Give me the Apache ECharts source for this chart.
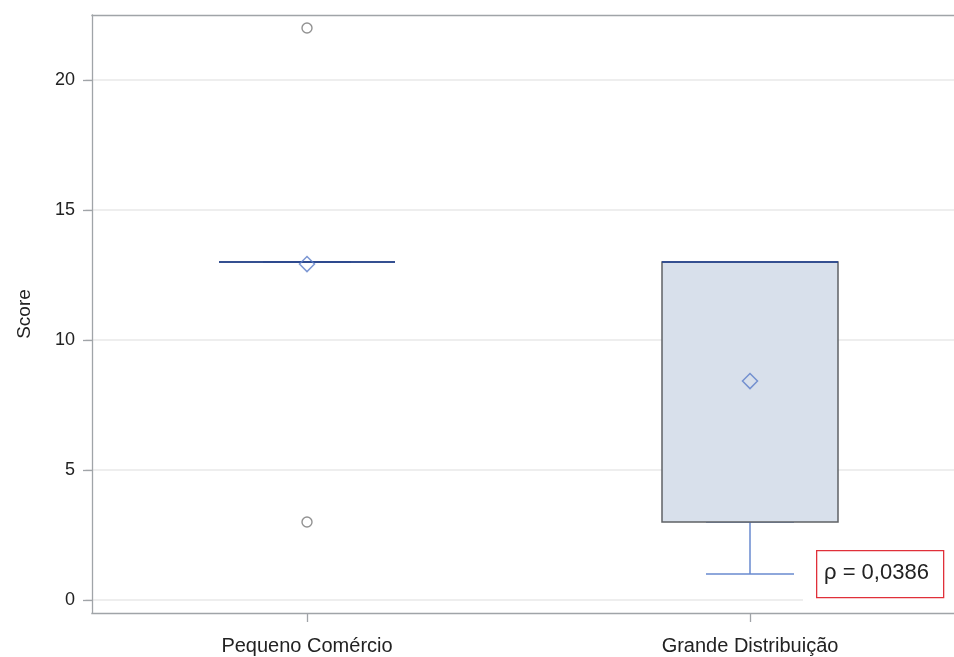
<!DOCTYPE html>
<html>
<head>
<meta charset="utf-8">
<script src="https://cdn.jsdelivr.net/npm/echarts@6/dist/echarts.min.js"></script>
<style>
  html, body { margin: 0; padding: 0; background: #fff; }
  #chart { width: 954px; height: 657px; }
</style>
</head>
<body>
<div id="chart"></div>
<script>
// dados
const categorias = ['Pequeno Comércio', 'Grande Distribuição'];
// [min, Q1, mediana, Q3, max]
const caixas = [[13, 13, 13, 13, 13], [3, 3, 13, 13, 13]];
const bigodes = [[13, 13, 13, 13, 13], [1, 3, 3, 3, 3]];
const medianas = [[13, 13, 13, 13, 13], [13, 13, 13, 13, 13]];
const medias = [12.92, 8.42];
const outliers = [[0, 22], [0, 3]];
const yTicks = [0, 5, 10, 15, 20];
const pTexto = 'ρ = 0,0386';

const fonte = "'Liberation Sans', Arial, sans-serif";
const corEixo = '#a0a4a8';
const chart = echarts.init(document.getElementById('chart'));

chart.setOption({
  animation: false,
  grid: { left: 85.5, top: 15, width: 886, height: 598, show: false, outerBoundsMode: 'none', containLabel: false },
  xAxis: [
    {
      type: 'category',
      data: categorias,
      axisLine: { onZero: false, lineStyle: { color: corEixo, width: 1.3 } },
      axisTick: { show: true, interval: 0, alignWithLabel: true, length: 9, lineStyle: { color: corEixo, width: 1.3 } },
      axisLabel: { color: '#222', fontSize: 20, fontFamily: fonte, margin: 23 },
      splitLine: { show: false }
    },
    { type: 'category', data: categorias, show: false },
    {
      // só a linha de cima da moldura
      type: 'category', data: categorias, position: 'top',
      axisLine: { show: true, onZero: false, lineStyle: { color: corEixo, width: 1.3 } },
      axisTick: { show: false }, axisLabel: { show: false }
    }
  ],
  yAxis: {
    type: 'value',
    min: -0.5,
    max: 22.5,
    offset: -6.5,
    name: 'Score',
    nameLocation: 'middle',
    nameGap: 58,
    nameTextStyle: { color: '#222', fontSize: 19, fontFamily: fonte },
    axisLine: { show: true, lineStyle: { color: corEixo, width: 1.3 } },
    axisTick: { show: true, length: 9, customValues: yTicks, lineStyle: { color: corEixo, width: 1.3 } },
    axisLabel: { color: '#222', fontSize: 18, fontFamily: fonte, margin: 17, customValues: yTicks },
    splitLine: { show: true, lineStyle: { color: '#e8e8e8', width: 1.5 } }
  },
  series: [
    {
      type: 'boxplot',
      xAxisIndex: 1,
      data: bigodes,
      boxWidth: [88, 88],
      itemStyle: { color: 'transparent', borderColor: '#6a8bd0', borderWidth: 1.5 },
      z: 2
    },
    {
      type: 'boxplot',
      xAxisIndex: 0,
      data: caixas,
      boxWidth: [176, 176],
      itemStyle: { color: '#d8e0eb', borderColor: '#5f6166', borderWidth: 1.5 },
      z: 3
    },
    {
      type: 'boxplot',
      xAxisIndex: 2,
      data: medianas,
      boxWidth: [176, 176],
      itemStyle: { color: 'transparent', borderColor: '#1c3f94', borderWidth: 1.5 },
      z: 4
    },
    {
      type: 'scatter',
      xAxisIndex: 0,
      data: medias,
      symbol: 'diamond',
      symbolSize: [15, 15],
      itemStyle: { color: 'rgba(255,255,255,0)', borderColor: '#5b7dc8', borderWidth: 1.5 },
      z: 5
    },
    {
      type: 'scatter',
      xAxisIndex: 0,
      data: outliers,
      symbol: 'circle',
      symbolSize: 10,
      itemStyle: { color: '#fff', borderColor: '#777', borderWidth: 1.4 },
      z: 5
    }
  ],
  graphic: [
    // apara as pontas das linhas de cima/baixo à esquerda do eixo y
    { type: 'rect', left: 84, top: 10, shape: { width: 7.3, height: 8 }, style: { fill: '#fff' }, z: 100 },
    { type: 'rect', left: 84, top: 609, shape: { width: 7.3, height: 8 }, style: { fill: '#fff' }, z: 100 },
    {
      type: 'rect',
      left: 803, top: 542,
      shape: { width: 151, height: 66 },
      style: { fill: '#fff' },
      z: 10
    },
    {
      type: 'rect',
      left: 816, top: 550,
      shape: { width: 127, height: 47 },
      style: { fill: '#fff', stroke: '#e0303a', lineWidth: 1.3 },
      z: 11
    },
    {
      type: 'text',
      left: 824, top: 562,
      style: { text: pTexto, fill: '#222', fontSize: 22, fontFamily: fonte },
      z: 12
    }
  ]
});
</script>
</body>
</html>
